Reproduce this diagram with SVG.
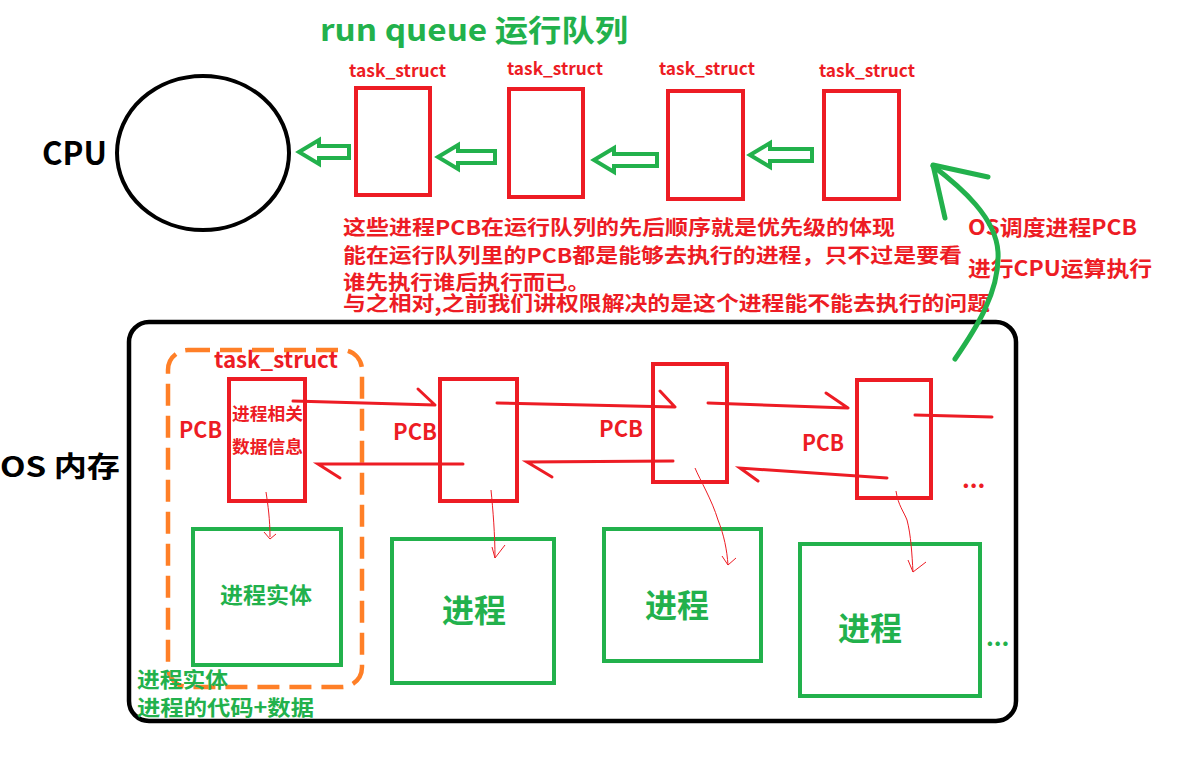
<svg xmlns="http://www.w3.org/2000/svg" width="1178" height="778" viewBox="0 0 1178 778">
<style>
.t{font-family:"Noto Sans CJK SC","Liberation Sans",sans-serif;font-weight:bold}
.red{fill:#ed1c24}
.grn{fill:#22b14c}
.blk{fill:#000}
.rbox{fill:none;stroke:#ed1c24;stroke-width:4}
.gbox{fill:none;stroke:#22b14c;stroke-width:4}
.harrow{fill:none;stroke:#22b14c;stroke-width:4;stroke-linejoin:miter}
.rline{fill:none;stroke:#ed1c24;stroke-width:3;stroke-linecap:round}
.thin{fill:none;stroke:#ed1c24;stroke-width:1}
</style>
<rect width="1178" height="778" fill="#fff"/>

<text class="t grn" x="320" y="41" font-size="30" textLength="308" lengthAdjust="spacingAndGlyphs">run queue 运行队列</text>

<g id="cpu">
<ellipse cx="203" cy="153" rx="86" ry="77" fill="none" stroke="#000" stroke-width="4"/>
<text class="t blk" x="42" y="165" font-size="32" textLength="65" lengthAdjust="spacingAndGlyphs">CPU</text>
</g>

<g id="rq1"><rect class="rbox" x="356" y="88" width="74" height="107"/><text class="t red" x="349" y="77" font-size="17" textLength="97" lengthAdjust="spacingAndGlyphs">task_struct</text></g>
<g id="rq2"><rect class="rbox" x="509" y="89" width="74" height="108"/><text class="t red" x="507" y="75" font-size="17" textLength="96" lengthAdjust="spacingAndGlyphs">task_struct</text></g>
<g id="rq3"><rect class="rbox" x="668" y="91" width="75" height="108"/><text class="t red" x="659" y="75" font-size="17" textLength="96" lengthAdjust="spacingAndGlyphs">task_struct</text></g>
<g id="rq4"><rect class="rbox" x="824" y="91" width="75" height="108"/><text class="t red" x="819" y="77" font-size="17" textLength="96" lengthAdjust="spacingAndGlyphs">task_struct</text></g>

<g id="notes">
<text class="t red" x="343" y="235" font-size="20" textLength="552" lengthAdjust="spacingAndGlyphs">这些进程PCB在运行队列的先后顺序就是优先级的体现</text>
<text class="t red" x="343" y="263" font-size="20" textLength="619" lengthAdjust="spacingAndGlyphs">能在运行队列里的PCB都是能够去执行的进程，只不过是要看</text>
<text class="t red" x="343" y="290" font-size="20" textLength="247" lengthAdjust="spacingAndGlyphs">谁先执行谁后执行而已。</text>
<text class="t red" x="343" y="311" font-size="20" textLength="647" lengthAdjust="spacingAndGlyphs">与之相对,之前我们讲权限解决的是这个进程能不能去执行的问题</text>
<text class="t red" x="968" y="235" font-size="21" textLength="169" lengthAdjust="spacingAndGlyphs">OS调度进程PCB</text>
<text class="t red" x="968" y="276" font-size="21" textLength="184" lengthAdjust="spacingAndGlyphs">进行CPU运算执行</text>
</g>

<g id="memory">
<rect x="129" y="322" width="887" height="399" rx="20" fill="none" stroke="#000" stroke-width="4.5"/>
<text class="t blk" x="0" y="477" font-size="28" textLength="120" lengthAdjust="spacingAndGlyphs">OS 内存</text>
</g>

<g id="taskstruct0">
<rect x="168" y="350" width="194" height="337" rx="20" fill="none" stroke="#ff7f27" stroke-width="4.5" stroke-dasharray="22 10"/>
<text class="t red" x="214" y="368" font-size="22" textLength="124" lengthAdjust="spacingAndGlyphs">task_struct</text>
</g>

<g id="pcb0">
<rect class="rbox" x="229" y="379" width="76" height="122"/>
<text class="t red" x="179" y="438" font-size="22" textLength="43" lengthAdjust="spacingAndGlyphs">PCB</text>
<text class="t red" x="232" y="420" font-size="17" textLength="71" lengthAdjust="spacingAndGlyphs">进程相关</text>
<text class="t red" x="232" y="453" font-size="17" textLength="71" lengthAdjust="spacingAndGlyphs">数据信息</text>
</g>
<g id="pcb1">
<rect class="rbox" x="440" y="379" width="77" height="122"/>
<text class="t red" x="393" y="440" font-size="22" textLength="44" lengthAdjust="spacingAndGlyphs">PCB</text>
</g>
<g id="pcb2">
<rect class="rbox" x="653" y="364" width="74" height="118"/>
<text class="t red" x="599" y="437" font-size="22" textLength="44" lengthAdjust="spacingAndGlyphs">PCB</text>
</g>
<g id="pcb3">
<rect class="rbox" x="857" y="380" width="74" height="118"/>
<text class="t red" x="802" y="451" font-size="22" textLength="42" lengthAdjust="spacingAndGlyphs">PCB</text>
<text class="t red" x="962" y="488" font-size="24">...</text>
</g>

<g id="entity0">
<rect class="gbox" x="193" y="529" width="148" height="136"/>
<text class="t grn" x="266" y="603" font-size="22" text-anchor="middle" textLength="92" lengthAdjust="spacingAndGlyphs">进程实体</text>
<text class="t grn" x="137" y="687" font-size="21" textLength="91" lengthAdjust="spacingAndGlyphs">进程实体</text>
<text class="t grn" x="137" y="715" font-size="21" textLength="177" lengthAdjust="spacingAndGlyphs">进程的代码+数据</text>
</g>
<g id="proc1">
<rect class="gbox" x="392" y="539" width="162" height="144"/>
<text class="t grn" x="474" y="622" font-size="32" text-anchor="middle">进程</text>
</g>
<g id="proc2">
<rect class="gbox" x="604" y="529" width="157" height="132"/>
<text class="t grn" x="677" y="617" font-size="32" text-anchor="middle">进程</text>
</g>
<g id="proc3">
<rect class="gbox" x="800" y="544" width="180" height="152"/>
<text class="t grn" x="870" y="640" font-size="32" text-anchor="middle">进程</text>
<text class="t grn" x="986" y="646" font-size="24">...</text>
</g>

<g id="connectors">
<polygon class="harrow" points="299,152 319,140 319,146 349,146 349,158 319,158 319,164"/>
<polygon class="harrow" points="438,157 458,145 458,151 495,151 495,163 458,163 458,169"/>
<polygon class="harrow" points="594,160 614,148 614,154 657,154 657,166 614,166 614,172"/>
<polygon class="harrow" points="750,155 770,143 770,149 812,149 812,161 770,161 770,167"/>

<path d="M955,359 C975,330 1000,292 998,252 C996,218 962,188 933,166" fill="none" stroke="#22b14c" stroke-width="5" stroke-linecap="round"/>
<path d="M988,177 L933,165 L945,218" fill="none" stroke="#22b14c" stroke-width="5" stroke-linecap="round" stroke-linejoin="round"/>

<path class="rline" d="M293,401 L435,405 M418,389 L435,405"/>
<path class="rline" d="M463,464 L318,464 L340,478"/>
<path class="rline" d="M497,403 L675,407 M660,391 L675,407"/>
<path class="rline" d="M673,461 L527,462 L552,477"/>
<path class="rline" d="M708,403 L848,408 M826,393 L848,408"/>
<path class="rline" d="M887,478 L740,468 L758,481"/>
<path class="rline" d="M915,415 L992,417"/>

<path class="thin" d="M266,492 C268,505 270,520 270,537 M264,532 L270,539 L276,534"/>
<path class="thin" d="M491,490 C493,510 495,535 495,558 M492,547 L495,558 L505,545"/>
<path class="thin" d="M695,468 C700,480 712,500 718,520 C724,535 727,550 728,565 M722,556 L728,565 L736,558"/>
<path class="thin" d="M896,491 C898,505 904,512 907,520 C911,535 912,555 913,572 M908,560 L913,572 L926,562"/>
</g>
</svg>
